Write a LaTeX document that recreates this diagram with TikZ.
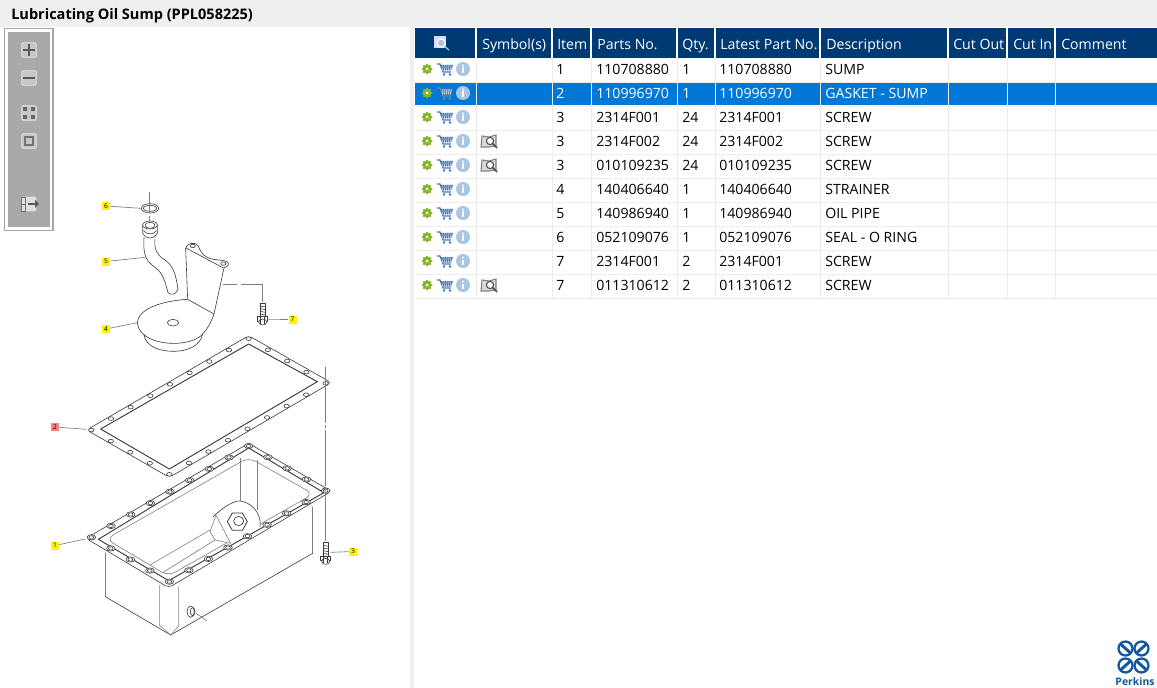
\documentclass[tikz,border=0pt]{standalone}
\usepackage{fontspec}
\setmainfont{Open Sans}
\usetikzlibrary{shapes.geometric,calc}

\definecolor{barbg}{HTML}{EFEFEF}
\definecolor{headbg}{HTML}{003A75}
\definecolor{selbg}{HTML}{0078D7}
\definecolor{cellrule}{HTML}{EDEDED}
\definecolor{toolbg}{HTML}{A9A9A9}
\definecolor{gearcol}{HTML}{86B52F}
\definecolor{cartcol}{HTML}{4677B0}
\definecolor{cartdim}{HTML}{6E86A3}
\definecolor{infocol}{HTML}{A8C6E2}
\definecolor{perkins}{HTML}{12589F}
\definecolor{artcol}{HTML}{3A3A3A}
\definecolor{wallcol}{HTML}{808080}

\newcommand{\tablefont}{\fontsize{10.6}{12}\selectfont}

% holes round the gasket and the sump flange
\newcommand{\flangeholes}[2]{
    \foreach \i in {0,...,7}
        \draw [art, fill=white] ($(154,300)!\i/8!(626,26)$) ellipse (#1 and #2);
    \foreach \i in {0,...,3}
        \draw [art, fill=white] ($(626,26)!\i/4!(857,160)$) ellipse (#1 and #2);
    \foreach \i in {0,...,7}
        \draw [art, fill=white] ($(857,160)!\i/8!(388,433)$) ellipse (#1 and #2);
    \foreach \i in {0,...,3}
        \draw [art, fill=white] ($(388,433)!\i/4!(154,300)$) ellipse (#1 and #2);
}

\tikzset{
    gearicon/.pic={
        \foreach \a in {0,45,...,315}
            \fill [gearcol] (\a:4.4) circle (1.1);
        \fill [gearcol] (0,0) circle (4.4);
        \fill [white] (0,0) circle (1.5);
    },
    carticon/.pic={
        \draw [cartcol, line width=0.9pt] (-8,-5) -- (-5,-5) -- (-2,3) -- (6,3);
        \fill [cartcol] (-4.5,-4) -- (8,-4) -- (6,1.5) -- (-2.5,1.5) -- cycle;
        \foreach \a in {-2,0,...,6}
            \draw [white, line width=0.35pt] (\a,-4) -- (\a-0.4,1.5);
        \fill [cartcol] (-1,5.5) circle (1.3) (5,5.5) circle (1.3);
    },
    cartdimicon/.pic={
        \draw [cartdim, line width=0.9pt] (-8,-5) -- (-5,-5) -- (-2,3) -- (6,3);
        \fill [cartdim] (-4.5,-4) -- (8,-4) -- (6,1.5) -- (-2.5,1.5) -- cycle;
        \foreach \a in {-2,0,...,6}
            \draw [white, line width=0.35pt] (\a,-4) -- (\a-0.4,1.5);
        \fill [cartdim] (-1,5.5) circle (1.3) (5,5.5) circle (1.3);
    },
    infoicon/.pic={
        \fill [infocol] (0,0) circle (7);
        \fill [white] (0,-3.6) circle (1.1);
        \fill [white] (-1,-1.5) rectangle (1,4);
    },
    bookicon/.pic={
        \draw [gray, line width=0.8pt, fill=black!15] (-8,6) -- (-7,-5) -- (0,-4) -- (7,-6) -- (7,5) -- (0,6) -- cycle;
        \draw [black!70, line width=0.8pt, fill=white] (1,0) circle (3.6);
        \draw [black!70, line width=1.2pt] (3.5,2.5) -- (8,7);
    },
    boltpic/.pic={
        \draw [art, fill=white] (-8,-50) -- (8,-50) -- (8,-8) -- (-8,-8) -- cycle;
        \foreach \t in {-42,-34,-26,-18}
            \draw [art] (-8,\t) -- (8,\t+3);
        \draw [art, fill=white] (-15,-10) -- (15,-10) -- (15,4) -- (-15,4) -- cycle;
        \draw [art, fill=white] (0,6) ellipse (12 and 9);
        \draw [art] (-6,-10) -- (-6,12) (6,-10) -- (6,12);
    },
}

\begin{document}
\begin{tikzpicture}[x=0.75pt, y=-0.75pt]
\tikzstyle{art}=[color=artcol, line width=0.45pt, line join=round]
\tikzstyle{rim}=[color=artcol, line width=0.7pt, line join=round]
\tikzstyle{wall}=[color=wallcol, line width=0.45pt]
\tikzstyle{leader}=[color=black!50, line width=0.5pt]
\tikzstyle{callout}=[fill=yellow, inner sep=0pt, minimum size=6pt, font=\fontsize{5}{5}\selectfont]
\tikzstyle{celltext}=[anchor=base west, inner sep=0pt, font=\tablefont]
\tikzstyle{headtext}=[anchor=base west, inner sep=0pt, font=\tablefont, text=white]
\tikzstyle{toolbtn}=[draw=black!10, fill=black!22, rounded corners=1pt, minimum size=11pt, inner sep=0pt, line width=0.6pt]
\tikzstyle{toolmark}=[color=black!65, line width=1.3pt]

\useasboundingbox (0,0) rectangle (1157,688);
\fill [white] (0,0) rectangle (1157,688);

% window bars
\fill [barbg] (0,0) rectangle (1157,27);
\fill [barbg] (410,27) rectangle (414,688);
\node [anchor=base west, inner sep=0pt, font=\fontsize{10.9}{12}\selectfont\bfseries] (title) at (11,20) {Lubricating Oil Sump (PPL058225)};

% tool strip
\draw [draw=black!35, fill=white, line width=0.8pt] (4.5,28.5) rectangle (53,230.5);
\fill [toolbg] (8,32) rectangle (50,227);
\node [toolbtn] (zoomin) at (29,50) {};
\node [toolbtn] (zoomout) at (29,78) {};
\node [toolbtn] (fitall) at (29,113) {};
\node [toolbtn] (fitone) at (29,141) {};
\node [toolbtn, draw=none, fill=black!12] (panel) at (29,204) {};
\draw [toolmark] (23,50) -- (35,50) (29,44) -- (29,56);
\draw [toolmark] (23,78) -- (35,78);
\foreach \sx in {25,33}
    \foreach \sy in {109,117}
        \fill [black!60] (\sx-2,\sy-2) rectangle (\sx+2,\sy+2);
\draw [color=black!55, line width=0.8pt] (25,137) rectangle (33,145);
\draw [color=black!55, line width=0.5pt] (21,197) rectangle (25,211) (21,204) -- (25,204);
\draw [toolmark] (28,204) -- (36,204);
\fill [black!65] (35,200) -- (39,204) -- (35,208) -- cycle;

% table header
\fill [headbg] (415,28) rectangle (1157,58);
\foreach \x in {476,552,591,677,715,820,948,1007,1055}
    \draw [white, line width=0.8pt] (\x,28) -- (\x,58);
\fill [white!85!blue] (434,36) rectangle (446,48);
\draw [color=white, fill=infocol, line width=0.8pt] (441,43) circle (4);
\draw [color=infocol, line width=1pt] (444,46) -- (449,50);
\node [headtext] (hsym) at (482,50) {Symbol(s)};
\node [headtext] (hitem) at (557,50) {Item};
\node [headtext] (hpart) at (597,50) {Parts No.};
\node [headtext] (hqty) at (682,50) {Qty.};
\node [headtext] (hlatest) at (720,50) {Latest Part No.};
\node [headtext] (hdesc) at (826,50) {Description};
\node [headtext] (hout) at (953,50) {Cut Out};
\node [headtext] (hin) at (1013,50) {Cut In};
\node [headtext] (hcomment) at (1061,50) {Comment};

% table rows
\fill [selbg] (415,82) rectangle (1157,105);
\foreach \r in {1,...,10}
    \draw [cellrule, line width=0.7pt] (415,58+24*\r) -- (1157,58+24*\r);
\foreach \x in {476,552,591,677,715,820,948,1007,1055}
    \draw [cellrule, line width=0.7pt] (\x,58) -- (\x,298);
\foreach \r/\itemno/\partno/\qty/\latest/\desc/\ink/\cart [evaluate=\r as \y using 25+24*\r+50] in {
    1/1/110708880/1/110708880/SUMP/black/carticon,
    2/2/110996970/1/110996970/GASKET - SUMP/white/cartdimicon,
    3/3/2314F001/24/2314F001/SCREW/black/carticon,
    4/3/2314F002/24/2314F002/SCREW/black/carticon,
    5/3/010109235/24/010109235/SCREW/black/carticon,
    6/4/140406640/1/140406640/STRAINER/black/carticon,
    7/5/140986940/1/140986940/OIL PIPE/black/carticon,
    8/6/052109076/1/052109076/SEAL - O RING/black/carticon,
    9/7/2314F001/2/2314F001/SCREW/black/carticon,
    10/7/011310612/2/011310612/SCREW/black/carticon} {
    \node [celltext, text=\ink] (item-\r) at (556,\y-24) {\itemno};
    \node [celltext, text=\ink] (part-\r) at (596,\y-24) {\partno};
    \node [celltext, text=\ink] (qty-\r) at (682,\y-24) {\qty};
    \node [celltext, text=\ink] (latest-\r) at (719,\y-24) {\latest};
    \node [celltext, text=\ink] (desc-\r) at (825,\y-24) {\desc};
    \pic at (427,\y-30) {gearicon};
    \pic at (445,\y-30) {\cart};
    \pic at (463,\y-30) {infoicon};
}
\foreach \y in {141,165,285}
    \pic at (489,\y) {bookicon};

% strainer and pipe, coordinates as in a 3x crop
\begin{scope}[shift={(40,180)}, x=0.25pt, y=-0.25pt]
\draw [art] (330,85) ellipse (26 and 14);
\draw [art] (330,85) ellipse (20 and 9);
\draw [leader] (328,36) -- (328,100);
\draw [leader] (328,108) -- (328,124);
\coordinate (ring) at (303,85);
% pipe
\draw [art, fill=white] (308,135) -- (308,160) .. controls (320,180) and (342,178) .. (352,160) -- (352,135);
\draw [art, fill=white] (330,135) ellipse (22 and 12);
\draw [art] (330,136) ellipse (15 and 9);
\draw [art] (310,152) .. controls (322,165) and (340,165) .. (350,152);
\draw [art] (312,172) .. controls (310,215) and (312,240) .. (345,262) .. controls (370,280) and (375,305) .. (384,338)
    .. controls (392,346) and (408,345) .. (414,328) .. controls (408,285) and (400,255) .. (372,238) .. controls (350,225) and (342,205) .. (345,178);
\coordinate (pipe) at (315,232);
% plate and disc
\draw [art] (443,358) -- (437,205) .. controls (438,192) and (465,182) .. (475,198) .. controls (485,225) and (495,232) .. (520,238) -- (552,242)
    .. controls (570,245) and (570,258) .. (552,264) -- (522,402) .. controls (512,430) and (500,450) .. (488,462);
\draw [art] (438,204) -- (550,264);
\draw [art] (458,198) ellipse (8 and 5);
\draw [art] (550,251) ellipse (8 and 5);
\draw [art] (443,358) -- (522,402);
\draw [art] (443,358) .. controls (370,362) and (295,385) .. (292,428) .. controls (295,470) and (350,492) .. (410,490) .. controls (445,488) and (475,478) .. (488,462);
\draw [art] (312,465) .. controls (318,500) and (360,514) .. (400,514) .. controls (440,514) and (480,500) .. (488,462);
\draw [art] (399,428) ellipse (17 and 10);
\coordinate (disc) at (292,428);
% guide line to bolt
\draw [leader] (550,312) -- (590,312) (603,312) -- (668,312) -- (668,366);
\pic at (668,420) {boltpic};
\coordinate (bolt7) at (685,419);
\end{scope}

% gasket and sump, same crop habit
\begin{scope}[shift={(40,330)}, x=0.25pt, y=-0.25pt]
\draw [art, rounded corners=3pt] (626,17) -- (874,158) -- (388,442) -- (140,300) -- cycle;
\draw [rim] (626,42) -- (832,155) -- (388,417) -- (182,297) -- cycle;
\flangeholes{8}{5.5}
\coordinate (gasket) at (140,298);

% sump walls
\draw [art] (196,668) -- (196,800) -- (392,915) -- (818,670) -- (818,530);
\draw [wall] (358,765) -- (358,885) -- (392,915) -- (416,888) -- (416,770);
\draw [art] (452,845) ellipse (11 and 17);
\draw [art] (458,845) ellipse (7 and 12);
\draw [leader] (468,850) -- (500,872);

% sump flange
\draw [art, rounded corners=3pt, fill=white] (626,340) -- (874,484) -- (386,773) -- (138,625) -- cycle;
\draw [rim] (175,628) -- (626,354) -- (852,488) -- (386,752) -- cycle;
\draw [wall, rounded corners=6pt] (198,627) -- (626,382) -- (820,492) -- (385,738) -- cycle;
\draw [wall] (600,385) -- (600,515) (652,390) -- (652,540);
\draw [wall] (510,600) -- (330,705) (525,630) -- (365,730);
\fill [white] (520,560) .. controls (550,530) and (590,505) .. (610,515) .. controls (645,525) and (665,560) .. (660,590) -- (575,640) -- (525,630) -- (510,605) -- cycle;
\draw [art] (520,560) .. controls (550,530) and (590,505) .. (610,515) .. controls (645,525) and (665,560) .. (660,590);
\draw [wall] (528,556) -- (510,605) -- (525,630) -- (572,640) -- (528,556);
\node [regular polygon, regular polygon sides=6, draw=artcol, line width=0.6pt, minimum size=15pt, inner sep=0pt] (nut) at (592,575) {};
\draw [art] (596,573) ellipse (15 and 14);
\begin{scope}[shift={(0,322)}]
\flangeholes{13}{8}
\flangeholes{7}{5}
\end{scope}
\coordinate (sump) at (136,627);
% guide line to bolt
\draw [leader, dash pattern=on 42pt off 1.5pt on 2pt off 1.5pt] (857,112) -- (857,632);
\pic at (857,688) {boltpic};
\coordinate (bolt3) at (872,667);
\end{scope}

% callouts
\node [callout] (call6) at (106,206) {6};
\node [callout] (call5) at (106,261.5) {5};
\node [callout] (call4) at (106,329) {4};
\node [callout] (call7) at (292.5,319.5) {7};
\node [callout, fill=red!50!white] (call2) at (55,427) {2};
\node [callout] (call1) at (55,545.5) {1};
\node [callout] (call3) at (353,551.5) {3};
\draw [leader] (call6) -- (ring);
\draw [leader] (call5) -- (pipe);
\draw [leader] (call4) -- (disc);
\draw [leader] (call7) -- (bolt7);
\draw [leader] (call2) -- (gasket);
\draw [leader] (call1) -- (sump);
\draw [leader] (call3) -- (bolt3);

% logo
\foreach \lx in {1125.5,1141.5}
    \foreach \ly in {648.5,665.5} {
        \draw [perkins, line width=1.7pt] (\lx,\ly) circle (7);
    }
\draw [perkins, line width=2.2pt] (1120.5,644) -- (1130.5,653) (1146.5,644) -- (1136.5,653) (1120.5,670) -- (1130.5,661) (1146.5,670) -- (1136.5,661);
\node [inner sep=0pt, text=perkins, font=\fontsize{7.8}{8}\selectfont\bfseries] (brand) at (1135,681.5) {Perkins};
\end{tikzpicture}
\end{document}
